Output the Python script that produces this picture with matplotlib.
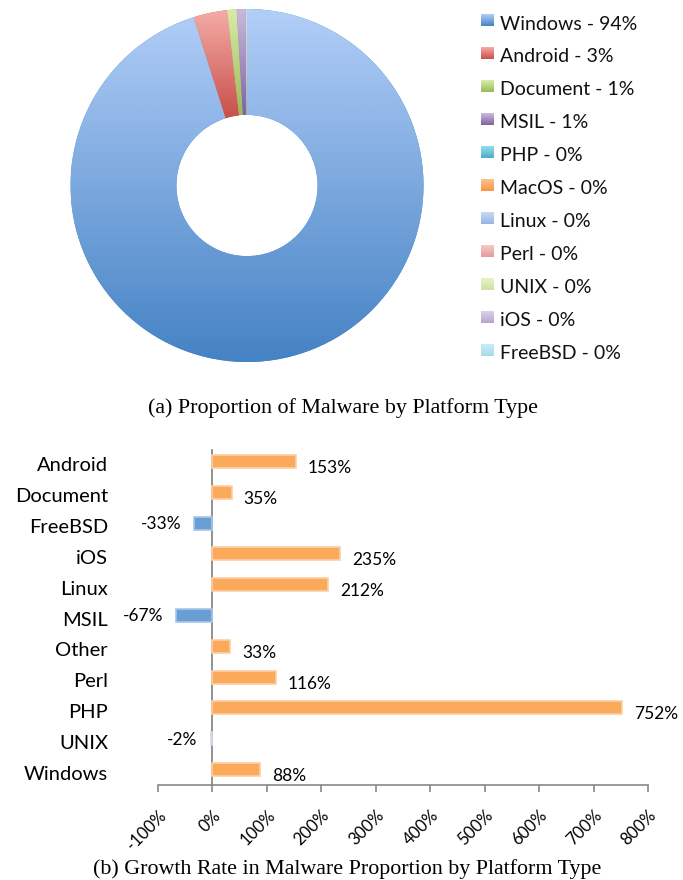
import matplotlib.pyplot as plt
import matplotlib.transforms as mtransforms
import numpy as np
from matplotlib.colors import LinearSegmentedColormap

plt.rcParams['font.family'] = ['Lato', 'DejaVu Sans']

# ---- data: share of malware by platform (donut) ----
platforms = ['Windows', 'Android', 'Document', 'MSIL', 'PHP', 'MacOS',
             'Linux', 'Perl', 'UNIX', 'iOS', 'FreeBSD']
share = [95.1, 3.1, 0.85, 0.8, 0.02, 0.02, 0.02, 0.02, 0.02, 0.02, 0.02]
share_labels = ['94%', '3%', '1%', '1%', '0%', '0%', '0%', '0%', '0%', '0%', '0%']
light = ['#b1cef7', '#f5aca7', '#d8eca8', '#cabadd', '#96dcef', '#fcc28f',
         '#c6d9f5', '#f8c8c6', '#e6f3cb', '#dcd2ea', '#c6edf7']
dark = ['#4683c5', '#c9504a', '#9bbb59', '#8064a2', '#4bacc6', '#f79646',
        '#97b5e4', '#e59c98', '#cde2a2', '#b6a5cf', '#a4dcea']

# ---- data: growth rate by platform (bars) ----
growth_cats = ['Android', 'Document', 'FreeBSD', 'iOS', 'Linux', 'MSIL',
               'Other', 'Perl', 'PHP', 'UNIX', 'Windows']
growth = [153, 35, -33, 235, 212, -67, 33, 116, 752, -2, 88]

W, H = 683, 880
fig = plt.figure(figsize=(W / 100, H / 100), dpi=100)
serif = ['Liberation Serif', 'DejaVu Serif']


def grad_fill(ax, patch, c1, c2):
    # vertical gradient, light at top, dark at bottom, clipped to the patch
    bb = patch.get_path().get_extents()
    cmap = LinearSegmentedColormap.from_list('g', [c2, c1])
    img = np.linspace(0, 1, 64).reshape(-1, 1)
    im = ax.imshow(img, cmap=cmap, origin='lower', aspect='auto',
                   extent=(bb.x0, bb.x1, bb.y0, bb.y1), zorder=2,
                   interpolation='bilinear')
    im.set_clip_path(patch)


# ---- donut ----
r = 176.5
cx, cy = 247, 185.5
ax1 = fig.add_axes([(cx - r) / W, 1 - (cy + r) / H, 2 * r / W, 2 * r / H])
wedges, _ = ax1.pie(share, startangle=90, counterclock=False, radius=1,
                    colors=dark, wedgeprops=dict(width=0.6, linewidth=0))
for w, c1, c2 in zip(wedges, light, dark):
    grad_fill(ax1, w, c1, c2)
ax1.set_xlim(-1, 1)
ax1.set_ylim(-1, 1)
ax1.set_aspect('equal')
ax1.axis('off')

# ---- legend drawn in pixel coordinates ----
axl = fig.add_axes([470 / W, 1 - 370 / H, 213 / W, 370 / H])
img = np.linspace(0, 1, 32).reshape(-1, 1)
for i, (name, lab) in enumerate(zip(platforms, share_labels)):
    y = 20.5 + i * 32.95
    cmap = LinearSegmentedColormap.from_list('g', [light[i], dark[i]])
    axl.imshow(img, cmap=cmap, aspect='auto', extent=(481, 494, y + 6, y - 6),
               interpolation='bilinear')
    axl.text(500, y + 9, f'{name} - {lab}', fontsize=14, va='baseline',
             ha='left', color='#111111')
axl.set_xlim(470, 683)
axl.set_ylim(370, 0)
axl.axis('off')

fig.text(343 / W, 1 - 413 / H, '(a) Proportion of Malware by Platform Type',
         family=serif, fontsize=15.8, ha='center', va='baseline')

# ---- growth bars ----
ax2 = fig.add_axes([158 / W, 1 - 785 / H, 490 / W, 339 / H])
ypos = np.arange(len(growth_cats))
cols = []
edges = []
for g in growth:
    if g >= 0:
        cols.append('#fbaa5b')
        edges.append('#fcd0a4')
    elif g < -10:
        cols.append('#6a9fd6')
        edges.append('#a9c6e6')
    else:
        cols.append('#b9cbe0')
        edges.append('#cfdbea')
ax2.barh(ypos, growth, height=0.42, color=cols, edgecolor=edges,
         linewidth=1.2, zorder=4)
for y, g in zip(ypos, growth):
    if g >= 0:
        ax2.text(g + 22, y + 0.37, f'{g}%', va='baseline', ha='left',
                 fontsize=12.5)
    else:
        ax2.text(g - 24 if g < -10 else g - 25, y + 0.19, f'{g}%',
                 va='baseline', ha='right', fontsize=12.5)
ax2.set_ylim(len(growth_cats) - 0.5, -0.5)
ax2.set_xlim(-100, 800)
ax2.axvline(0, ymax=0.988, color='#888888', lw=1.3, zorder=3)
ax2.set_yticks(ypos)
ax2.set_yticklabels(growth_cats, fontsize=14.5)
ax2.tick_params(axis='y', length=0, pad=36)
shift = mtransforms.ScaledTranslation(0, -3 / 100, fig.dpi_scale_trans)
for t in ax2.get_yticklabels():
    t.set_transform(t.get_transform() + shift)
xt = np.arange(-100, 801, 100)
ax2.set_xticks(xt)
ax2.set_xticklabels([f'{v}%' for v in xt], rotation=45, ha='right',
                    rotation_mode='anchor', fontsize=12)
ax2.tick_params(axis='x', length=5, color='#888888', width=1.2, pad=11)
for s in ['top', 'right', 'left']:
    ax2.spines[s].set_visible(False)
ax2.spines['bottom'].set_color('#888888')
ax2.spines['bottom'].set_linewidth(1.2)

fig.text(347 / W, 1 - 874 / H,
         '(b) Growth Rate in Malware Proportion by Platform Type',
         family=serif, fontsize=15.8, ha='center', va='baseline')

fig.savefig('out.png', dpi=100)
